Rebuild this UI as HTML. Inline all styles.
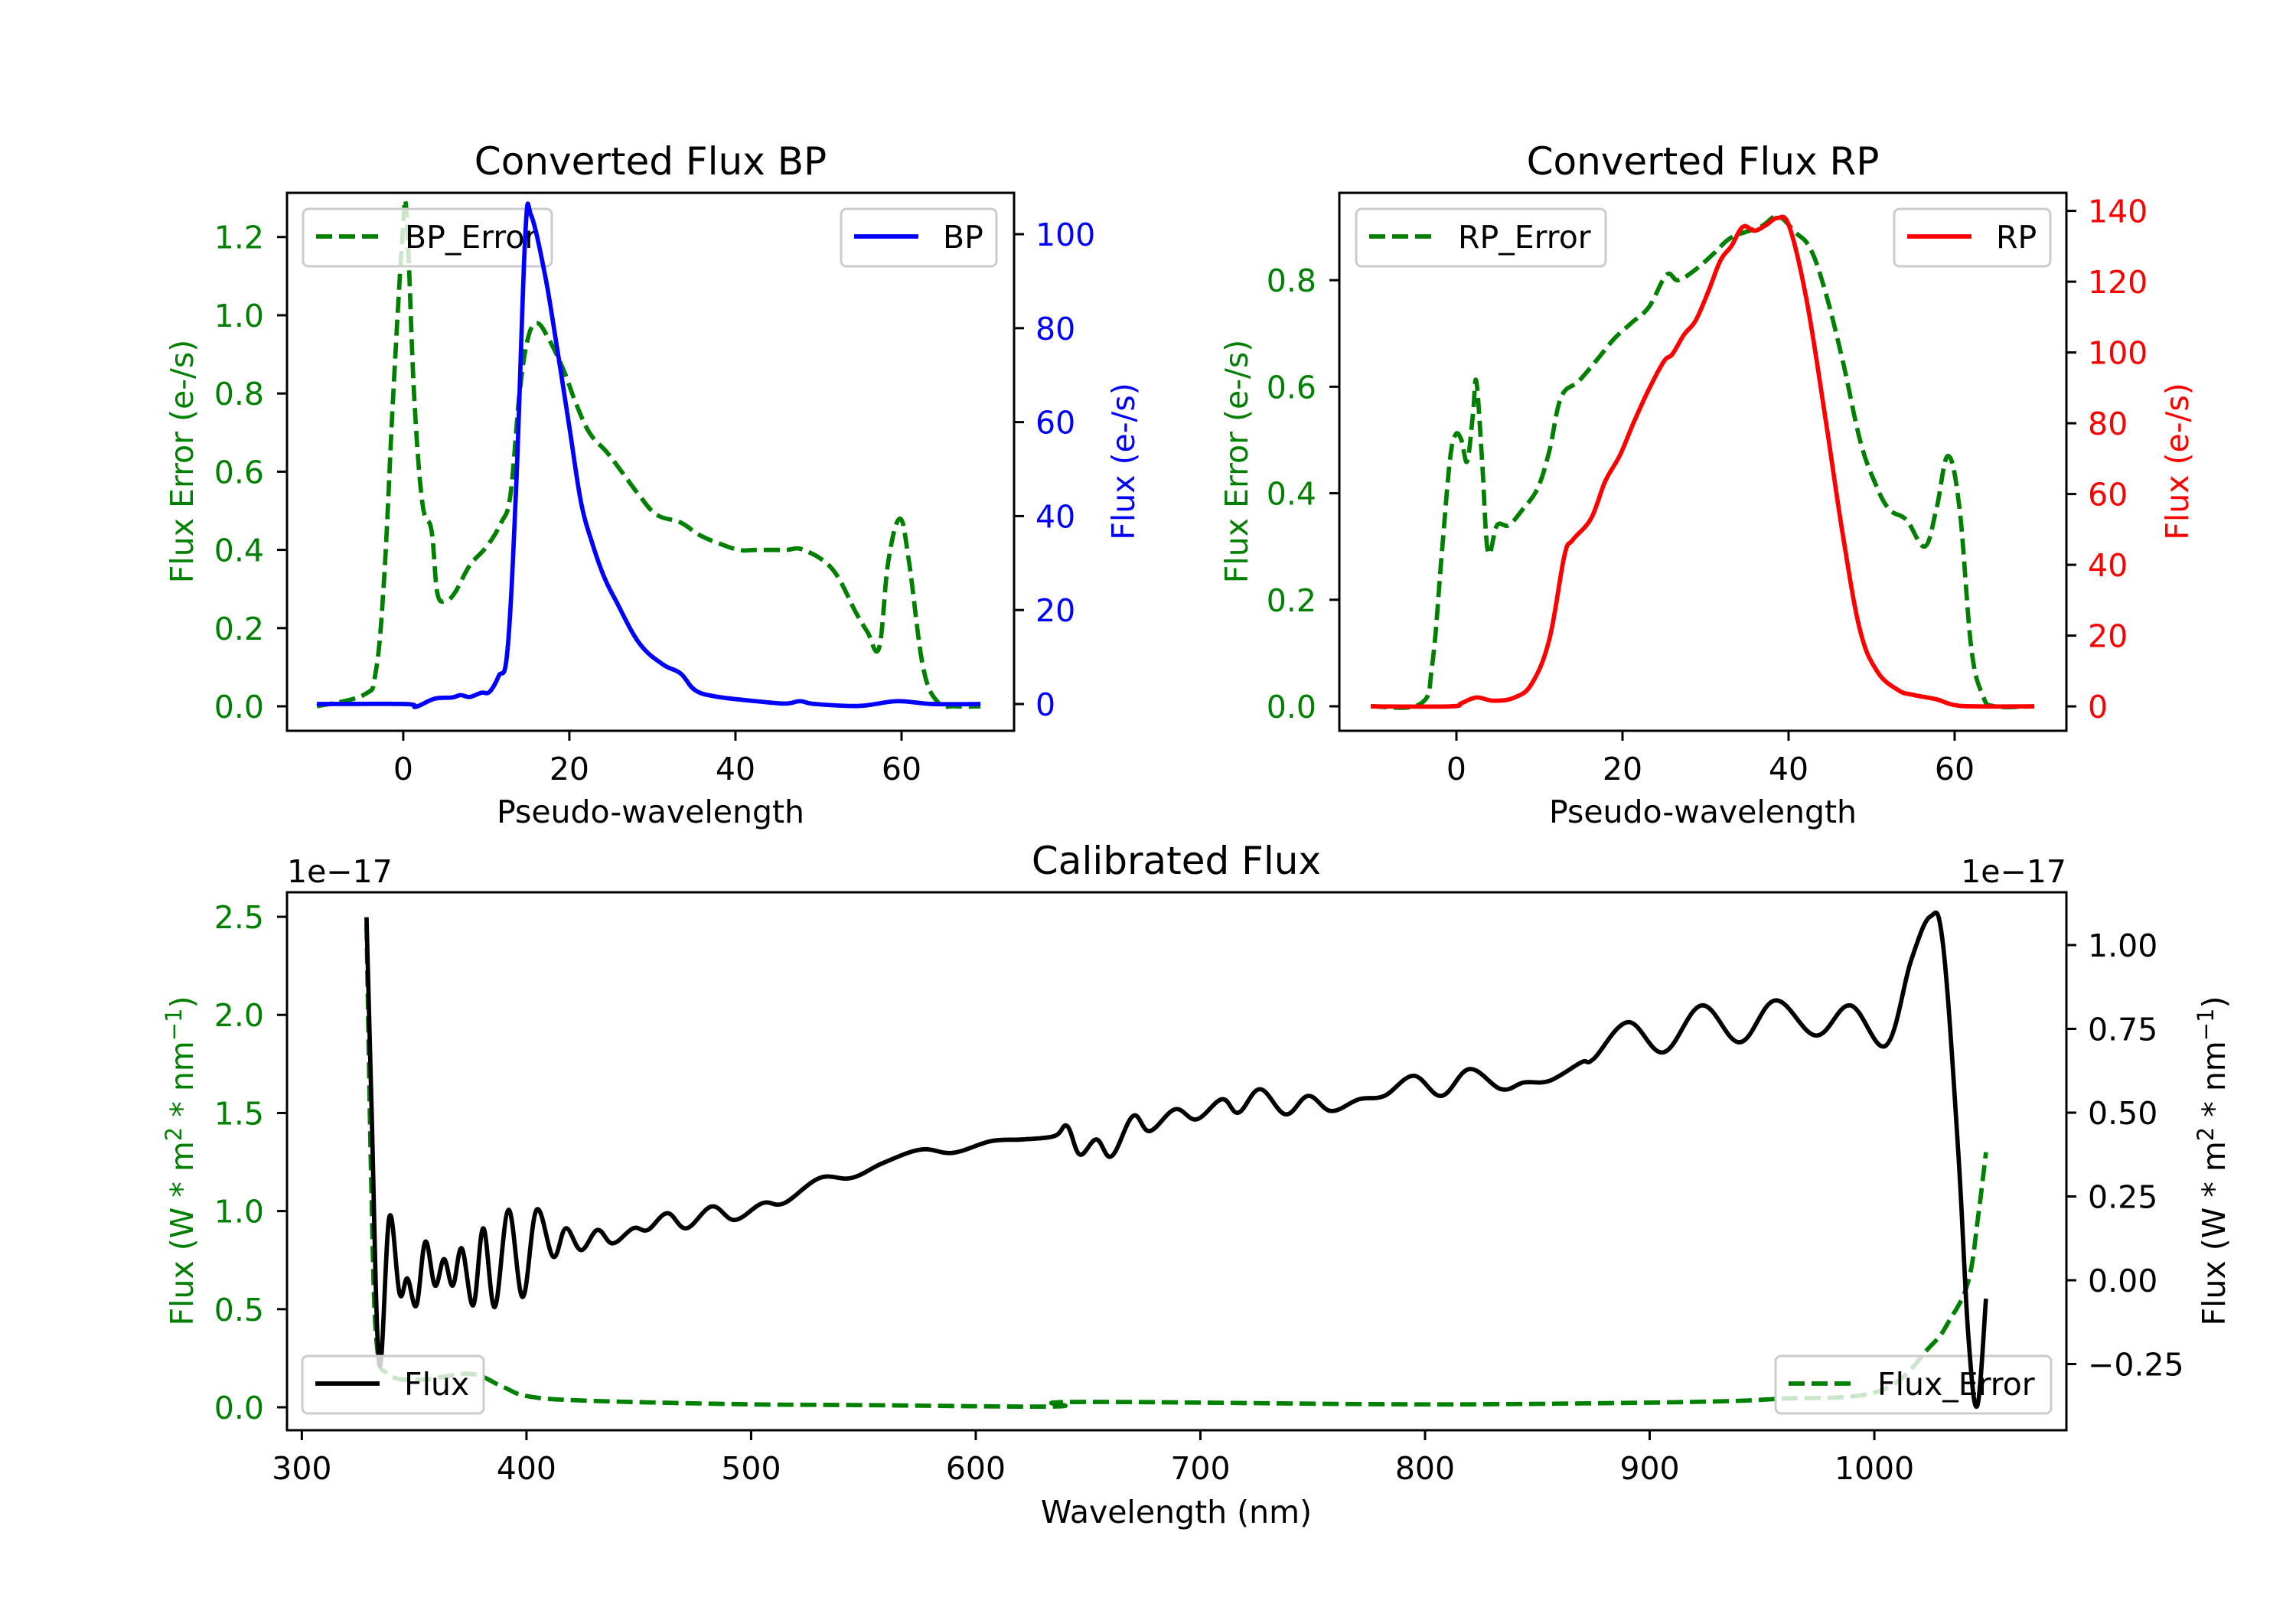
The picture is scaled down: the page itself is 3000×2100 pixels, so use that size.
<!DOCTYPE html>
<html><head><meta charset="utf-8"><style>
html,body{margin:0;padding:0;background:#fff}
svg{display:block;font-family:"DejaVu Sans","Liberation Sans",sans-serif}
</style></head><body>
<svg id="fig" width="3000" height="2100" viewBox="0 0 3000 2100" xmlns="http://www.w3.org/2000/svg">
<rect x="0" y="0" width="3000" height="2100" fill="#fff"/>
</svg>
<script>
// ---- data: BP ----
const bpX = [-10.4,0.2,1.5,3.7,5.9,6.9,8,9.4,10.4,11.5,12.55,13.6,14.7,15.4,17.1,18.5,20,21.4,22.8,24.2,25.6,28.4,31.2,33.4,35.1,37.6,42.5,46,47.8,49.6,54.9,59.4,63.7,69.5];
const bpFlux = [0,0,-0.6,1.1,1.4,1.9,1.5,2.4,2.6,6,11.5,46.5,100,104,91,76,59,43,34,27,22,13,8.5,6.5,3,1.6,0.6,0.1,0.6,0,-0.4,0.6,0,0];
const bpErrX = [-10.4,-4.7,-3.3,-2.3,-1.2,-0.1,0.4,1.3,2.3,3.4,4.1,5.1,6.2,8,10.1,11.8,12.9,14,15,16.1,17.5,19.3,20.7,22.4,24.5,26.3,28.4,30.5,33.4,35.5,37.6,40.4,42.5,46,48.2,51.7,54.5,55.9,57.3,58.4,59.8,60.9,62.6,64.4,66.5,69.5];
const bpErr = [0,0.03,0.09,0.33,0.8,1.2,1.26,0.8,0.52,0.45,0.29,0.27,0.29,0.36,0.41,0.47,0.54,0.8,0.94,0.98,0.94,0.86,0.78,0.7,0.65,0.6,0.54,0.49,0.47,0.44,0.42,0.4,0.4,0.4,0.4,0.35,0.24,0.19,0.15,0.37,0.48,0.37,0.1,0.01,0,0];
// ---- data: RP ----
const rpX = [-10.3,-0.8,0.6,2.4,4.5,7,9.1,11.2,13,14,16.2,17.9,19.7,21.4,23.2,25,26,27.4,28.8,30.3,31.8,33.1,34.5,35.9,37.3,38.7,40.1,42.2,44.4,46.5,48.6,50.7,53.2,54.9,57.8,59.9,62.7,69.6];
const rpFlux = [0,0,0.9,2.5,1.6,2.5,6.5,19,42.5,47,53,63.5,71,80.5,89.7,97.5,99.5,105,109,117,126,130,135.5,134.4,136,138,135.5,114.5,82,49,21.6,9.8,4.6,3.3,2,0.4,0,0];
const rpErrX = [-10.3,-4.3,-2.9,-1.8,-0.8,-0.1,0.6,1.3,2,2.4,3.1,3.8,4.9,6.3,8,9.8,11.2,12.6,14.7,16.9,19,21.1,23.2,25.3,26.7,28.8,31,33.1,36.6,38.7,40.8,42.6,44.4,46.5,48.6,50.4,52.1,54.2,56.4,57.8,59.2,60.6,62,63.4,64.8,69.6];
const rpErr = [0,0.005,0.08,0.28,0.46,0.51,0.5,0.46,0.55,0.61,0.46,0.29,0.34,0.34,0.37,0.41,0.48,0.58,0.61,0.65,0.69,0.72,0.75,0.81,0.8,0.82,0.85,0.88,0.9,0.92,0.89,0.86,0.78,0.65,0.5,0.42,0.37,0.35,0.3,0.37,0.47,0.37,0.11,0.02,0,0];
// ---- data: calibrated ----
const calX = [328.8,331,334.5,339,343.5,347,351,355,359.3,363.3,367.2,371.2,376.3,380.8,385.9,392,398.3,404.5,411.9,417.5,424.3,431.6,438.4,447.5,454,462.7,471.2,482.5,492.7,505,514.7,530.5,544.6,558.8,575.7,589.8,606.8,620.9,635,640.7,646.3,653.7,660.5,670,677.4,688.7,698.3,709.6,716.9,726.6,737.9,748,758.2,770.6,781.9,794.9,807.3,819.8,833.9,844,855.4,869.5,875,890.4,906.2,923.2,940.1,956,974,989.3,1005.1,1016.4,1024.9,1030.5,1037.3,1041.8,1045.8,1049.7];
const calFlux = [1.083,0.52,-0.25,0.19,-0.04,0.005,-0.075,0.115,-0.016,0.063,-0.016,0.095,-0.075,0.155,-0.08,0.21,-0.05,0.21,0.07,0.155,0.09,0.15,0.11,0.155,0.15,0.2,0.155,0.22,0.18,0.23,0.23,0.305,0.305,0.35,0.39,0.38,0.415,0.42,0.43,0.46,0.375,0.42,0.37,0.49,0.445,0.51,0.48,0.54,0.5,0.57,0.495,0.55,0.505,0.54,0.55,0.61,0.55,0.63,0.57,0.59,0.595,0.65,0.66,0.77,0.68,0.82,0.71,0.835,0.73,0.82,0.7,0.955,1.085,1.005,0.39,-0.16,-0.375,-0.055];
const calErrX = [328.8,331,333.3,338.4,352.5,375,389.3,400.6,426,494,550.3,635,643.5,776.3,832.8,917.5,957,1002.3,1024.9,1033.3,1041.8,1046.3,1049.7];
const calErr = [2.46,1.09,0.33,0.17,0.14,0.17,0.105,0.056,0.034,0.016,0.011,0.004,0.027,0.016,0.016,0.027,0.043,0.083,0.31,0.44,0.64,0.98,1.3];
// ---- ticks ----
const ticksPseudo = [0,20,40,60];
const ticksBpErr = [0,0.2,0.4,0.6,0.8,1.0,1.2];
const ticksBpFlux = [0,20,40,60,80,100];
const ticksRpErr = [0,0.2,0.4,0.6,0.8];
const ticksRpFlux = [0,20,40,60,80,100,120,140];
const ticksWave = [300,400,500,600,700,800,900,1000];
const ticksCalErr = [0,0.5,1.0,1.5,2.0,2.5];
const ticksCalFlux = [-0.25,0,0.25,0.5,0.75,1.0];

const NS = "http://www.w3.org/2000/svg";
const svg = document.getElementById('fig');
function el(tag, attrs, parent){const e=document.createElementNS(NS,tag);for(const k in attrs)e.setAttribute(k,attrs[k]);(parent||svg).appendChild(e);return e;}
function lin(d0,d1,r0,r1){return v=>r0+(v-d0)/(d1-d0)*(r1-r0);}
const FS=41, TFS=50, LW=5.7, DASH="21,9";

function makeAx(id,x0,x1,y0,y1,xd,yld,yrd){
  const a={id,x0,x1,y0,y1,xs:lin(xd[0],xd[1],x0,x1),yl:lin(yld[0],yld[1],y1,y0),yr:lin(yrd[0],yrd[1],y1,y0)};
  const cp=el('clipPath',{id:'clip-'+id});
  el('rect',{x:x0,y:y0,width:x1-x0,height:y1-y0},cp);
  return a;
}
function smoothPath(P){
  let d='M'+P[0][0].toFixed(1)+','+P[0][1].toFixed(1);
  const t=0.18;
  for(let i=0;i<P.length-1;i++){
    const p0=P[Math.max(0,i-1)],p1=P[i],p2=P[i+1],p3=P[Math.min(P.length-1,i+2)];
    const c1x=p1[0]+(p2[0]-p0[0])*t,c1y=p1[1]+(p2[1]-p0[1])*t;
    const c2x=p2[0]-(p3[0]-p1[0])*t,c2y=p2[1]-(p3[1]-p1[1])*t;
    d+=' C'+c1x.toFixed(1)+','+c1y.toFixed(1)+' '+c2x.toFixed(1)+','+c2y.toFixed(1)+' '+p2[0].toFixed(1)+','+p2[1].toFixed(1);
  }
  return d;
}
function line(a,xs,ys,side,color,dashed,name){
  const ysc=side==='l'?a.yl:a.yr;
  const P=xs.map((x,i)=>[a.xs(x),ysc(ys[i])]);
  const p=el('path',{d:smoothPath(P),fill:'none',stroke:color,'stroke-width':LW,'stroke-linejoin':'round','clip-path':'url(#clip-'+a.id+')'});
  if(dashed)p.setAttribute('stroke-dasharray',DASH);
  
  
}
function legend(x,y,w,label,color,dashed,name){
  const g=el('g',{});
  
  
  el('rect',{x:x,y:y,width:w,height:75,rx:7,fill:'#fff','fill-opacity':0.8,stroke:'#cccccc','stroke-width':3},g);
  const l=el('line',{x1:x+17,x2:x+101,y1:y+36,y2:y+36,stroke:color,'stroke-width':LW},g);
  if(dashed)l.setAttribute('stroke-dasharray',DASH);
  const t=el('text',{x:x+133,y:y+51,'font-size':FS,fill:'#000'},g);t.textContent=label;
}
function frame(a){
  const r=el('rect',{x:a.x0,y:a.y0,width:a.x1-a.x0,height:a.y1-a.y0,fill:'none',stroke:'#000','stroke-width':3});
  
  
}
function xticks(a,ticks,fmt){
  ticks.forEach(v=>{const x=a.xs(v);
    el('line',{x1:x,x2:x,y1:a.y1,y2:a.y1+13,stroke:'#000','stroke-width':3});
    const t=el('text',{x:x,y:a.y1+64,'font-size':FS,'text-anchor':'middle',fill:'#000'});
    
    
    t.textContent=fmt(v);});
}
function yticks(a,side,ticks,fmt,color){
  const ys=side==='l'?a.yl:a.yr;
  ticks.forEach(v=>{const y=ys(v);
    if(side==='l'){
      el('line',{x1:a.x0-13,x2:a.x0,y1:y,y2:y,stroke:'#000','stroke-width':3});
      const t=el('text',{x:a.x0-30,y:y+15,'font-size':FS,'text-anchor':'end',fill:color});
      
      
      t.textContent=fmt(v);
    } else {
      el('line',{x1:a.x1,x2:a.x1+13,y1:y,y2:y,stroke:'#000','stroke-width':3});
      const t=el('text',{x:a.x1+28,y:y+15,'font-size':FS,'text-anchor':'start',fill:color});
      
      
      t.textContent=fmt(v);
    }});
}
function text(x,y,s,opts,name){
  const t=el('text',Object.assign({x:x,y:y,'font-size':FS,'text-anchor':'middle',fill:'#000'},opts||{}));
  
  
  t.textContent=s;return t;
}
function vlabel(x,yc,s,color,name){
  return text(x,yc,s,{fill:color,transform:'rotate(-90 '+x+' '+yc+')'},name);
}
const f1=v=>v.toFixed(1), f0=v=>String(v), f2=v=>(v<0?'\u2212':'')+Math.abs(v).toFixed(2);

// ---- BP axes ----
const A1=makeAx('bp',375,1325,252,955,[-14,73.55],[-0.0626,1.313],[-5.7,108.8]);
line(A1,bpErrX,bpErr,'l','#008000',true,'bp-error-line');
legend(396,273,325,'BP_Error','#008000',true,'bp-error-legend');
line(A1,bpX,bpFlux,'r','#0000ff',false,'bp-flux-line');
legend(1099,273,203,'BP','#0000ff',false,'bp-legend');
frame(A1);
xticks(A1,ticksPseudo,f0);
yticks(A1,'l',ticksBpErr,f1,'#008000');
yticks(A1,'r',ticksBpFlux,f0,'#0000ff');
text(850,228,'Converted Flux BP',{'font-size':TFS},'bp-title');
text(850,1075,'Pseudo-wavelength',{},'bp-x-axis-title');
vlabel(252,603,'Flux Error (e-/s)','#008000','bp-left-y-axis-title');
vlabel(1482,603,'Flux (e-/s)','#0000ff','bp-right-y-axis-title');

// ---- RP axes ----
const A2=makeAx('rp',1750,2700,252,955,[-14.1,73.46],[-0.046,0.964],[-6.9,145.1]);
line(A2,rpErrX,rpErr,'l','#008000',true,'rp-error-line');
legend(1772,273,326,'RP_Error','#008000',true,'rp-error-legend');
line(A2,rpX,rpFlux,'r','#ff0000',false,'rp-flux-line');
legend(2475,273,204,'RP','#ff0000',false,'rp-legend');
frame(A2);
xticks(A2,ticksPseudo,f0);
yticks(A2,'l',ticksRpErr,f1,'#008000');
yticks(A2,'r',ticksRpFlux,f0,'#ff0000');
text(2225,228,'Converted Flux RP',{'font-size':TFS},'rp-title');
text(2225,1075,'Pseudo-wavelength',{},'rp-x-axis-title');
vlabel(1630,603,'Flux Error (e-/s)','#008000','rp-left-y-axis-title');
vlabel(2859,603,'Flux (e-/s)','#ff0000','rp-right-y-axis-title');

// ---- Calibrated axes ----
const A3=makeAx('cal',375,2700,1166,1869,[293.4,1085.5],[-0.117,2.625],[-0.4475,1.1575]);
line(A3,calErrX,calErr,'l','#008000',true,'flux-error-line');
legend(2320,1772,360,'Flux_Error','#008000',true,'flux-error-legend');
line(A3,calX,calFlux,'r','#000000',false,'flux-line');
legend(395,1772,237,'Flux','#000000',false,'flux-legend');
frame(A3);
xticks(A3,ticksWave,f0);
yticks(A3,'l',ticksCalErr,f1,'#008000');
yticks(A3,'r',ticksCalFlux,f2,'#000000');
text(1537,1142,'Calibrated Flux',{'font-size':TFS},'calibrated-title');
text(1537,1990,'Wavelength (nm)',{},'calibrated-x-axis-title');
text(375,1153,'1e\u221217',{'text-anchor':'start'},'left-offset-text');
text(2700,1153,'1e\u221217',{'text-anchor':'end'},'right-offset-text');
function mathLabel(x,yc,color,name){
  const t=el('text',{x:x,y:yc,'font-size':FS,'text-anchor':'middle',fill:color,transform:'rotate(-90 '+x+' '+yc+')'});
  
  
  const parts=[['Flux (W * m',0],['2',1],[' * nm',0],['\u22121',1],[')',0]];
  parts.forEach(p=>{const s=el('tspan',{},t);s.textContent=p[0];
    if(p[1]){s.setAttribute('font-size',29);s.setAttribute('dy',-15);}
    else if(s.previousSibling){s.setAttribute('dy',15);}
  });
}
mathLabel(252,1517,'#008000','calibrated-left-y-axis-title');
mathLabel(2907,1517,'#000000','calibrated-right-y-axis-title');
</script>
</body></html>
